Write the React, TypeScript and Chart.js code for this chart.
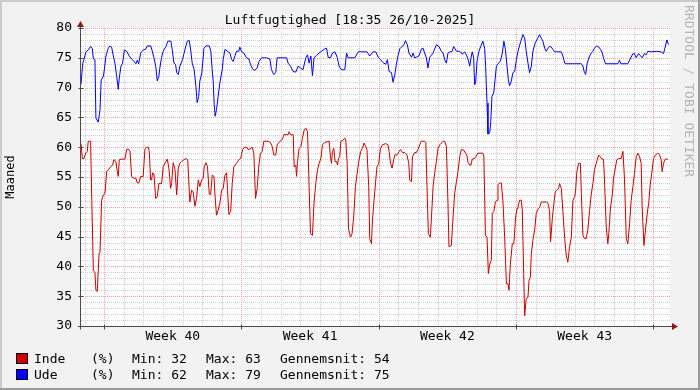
import React, { useEffect, useRef } from 'react';
import { Chart, registerables } from 'chart.js';

Chart.register(...registerables);

const TITLE = 'Luftfugtighed [18:35 26/10-2025]';
const Y_TITLE = 'Maaned';
const WATERMARK = 'RRDTOOL / TOBI OETIKER';

// x axis: days since start of the 30-day window
const SPAN_DAYS = 30.03;
const FIRST_MIDNIGHT = 0.18;
const WEEK_STARTS = [1.18, 8.18, 15.18, 22.18, 29.18];
const WEEK_LABELS = ['Week 40', 'Week 41', 'Week 42', 'Week 43'];

const Y_MIN = 30;
const Y_MAX = 80;
const Y_TICKS = [30, 35, 40, 45, 50, 55, 60, 65, 70, 75, 80];

const SERIES_NAMES = ['Inde', 'Ude'];
const SERIES_UNITS = ['(%)', '(%)'];
const SERIES_MIN = [32, 62];
const SERIES_MAX = [63, 79];
const SERIES_AVG = [54, 75];
const SERIES_COLORS = ['#cc0000', '#0000ff'];

// [day, humidity %]
const indeSamples: [number, number][] = [
  [0, 60.6], [0.07, 58.1], [0.15, 58.1], [0.24, 59], [0.32, 59.3], [0.37, 61], [0.49, 61], [0.55, 51.1], [0.63, 39.3], [0.71, 39],
  [0.76, 36], [0.83, 35.8], [0.92, 42.1], [0.97, 42.4], [1.05, 51.1], [1.14, 52], [1.22, 52.2], [1.31, 55.9], [1.39, 56.2], [1.51, 56.7],
  [1.61, 57], [1.68, 57.9], [1.78, 57.6], [1.85, 55.9], [1.9, 55.1], [1.95, 57.9], [2.07, 58], [2.24, 58], [2.33, 59.6], [2.41, 59.7],
  [2.5, 59.3], [2.58, 55.1], [2.66, 54.8], [2.8, 54.8], [2.87, 54], [2.95, 54], [3.04, 55.1], [3.17, 55.1], [3.26, 59.7], [3.35, 60],
  [3.43, 60], [3.48, 59.3], [3.55, 54.5], [3.6, 54.5], [3.65, 55.7], [3.72, 55.5], [3.81, 51.4], [3.89, 51.7], [3.97, 53.9], [4.11, 53.9],
  [4.19, 56.7], [4.33, 57.6], [4.4, 58], [4.48, 56.5], [4.57, 53.1], [4.62, 53.9], [4.7, 57.4], [4.79, 56.3], [4.88, 52], [4.96, 56.5],
  [5.04, 57.3], [5.13, 57.6], [5.21, 57.8], [5.35, 58.1], [5.44, 57.9], [5.55, 50.8], [5.64, 52.8], [5.72, 52.5], [5.81, 50.1], [5.89, 51.4],
  [5.98, 54.5], [6.06, 53.4], [6.15, 54.5], [6.23, 54.8], [6.28, 56.7], [6.37, 57.4], [6.45, 56.7], [6.54, 52.1], [6.61, 52.1], [6.69, 55.3],
  [6.78, 55.1], [6.83, 52], [6.91, 48.6], [6.99, 49.4], [7.08, 50.6], [7.17, 52.8], [7.25, 53.1], [7.34, 55.3], [7.42, 55.7], [7.47, 52.9],
  [7.54, 48.7], [7.63, 49.2], [7.71, 53.9], [7.79, 56.7], [7.93, 57.3], [8.05, 57.9], [8.14, 58.1], [8.24, 59.6], [8.35, 60], [8.44, 60],
  [8.52, 59.6], [8.61, 59.7], [8.73, 60], [8.81, 59], [8.9, 51.4], [8.98, 53.1], [9.07, 57], [9.15, 59], [9.24, 59.3], [9.32, 61],
  [9.54, 61], [9.66, 60.8], [9.75, 60.1], [9.83, 58.7], [9.93, 58.7], [10.0, 60.4], [10.14, 61], [10.27, 61.3], [10.34, 62.1], [10.56, 62.1],
  [10.61, 62.6], [10.68, 62.1], [10.82, 62.1], [10.87, 56.7], [10.95, 57], [10.99, 55.1], [11.04, 57.6], [11.12, 59.8], [11.21, 60.1], [11.29, 61.5],
  [11.38, 62.9], [11.46, 63.2], [11.55, 62.6], [11.63, 53.4], [11.7, 45.5], [11.8, 45.2], [11.88, 50.6], [11.97, 53.9], [12.06, 56.2], [12.14, 57.3],
  [12.23, 58.1], [12.31, 60.4], [12.43, 60.8], [12.65, 61], [12.72, 58.4], [12.77, 57.3], [12.82, 59.3], [12.89, 59.8], [12.95, 57.6], [13.03, 57.6],
  [13.08, 57], [13.13, 58.1], [13.19, 58.4], [13.25, 61], [13.36, 61.2], [13.45, 61.5], [13.5, 61.2], [13.57, 57.3], [13.64, 46.3], [13.74, 44.9],
  [13.82, 45.5], [13.91, 48.6], [13.99, 53.4], [14.08, 55.6], [14.16, 57.6], [14.26, 59.3], [14.35, 59.8], [14.43, 60.7], [14.52, 60.1], [14.58, 59.6],
  [14.67, 53.4], [14.72, 44.7], [14.81, 43.8], [14.86, 47.8], [14.94, 51.1], [15.03, 54.5], [15.09, 56.7], [15.18, 57.3], [15.27, 59.8], [15.37, 60.4],
  [15.54, 60.6], [15.65, 60.4], [15.71, 59.3], [15.78, 57.3], [15.86, 56.5], [15.94, 57.9], [16.0, 58.7], [16.11, 58.7], [16.22, 59.3], [16.29, 59.6],
  [16.39, 59.1], [16.51, 59.1], [16.62, 58.7], [16.71, 57.3], [16.76, 54.5], [16.85, 54.2], [16.9, 58.4], [17.01, 59.1], [17.1, 59.1], [17.18, 59.6],
  [17.27, 60.4], [17.35, 61], [17.52, 61], [17.58, 60.8], [17.64, 53.4], [17.71, 45.5], [17.81, 44.9], [17.87, 48.3], [17.95, 53.4], [18.03, 55.6],
  [18.12, 57.6], [18.2, 59.8], [18.29, 60.4], [18.46, 61], [18.54, 61], [18.63, 60.1], [18.71, 50.6], [18.76, 43.3], [18.88, 43.5], [18.97, 48.3],
  [19.05, 52.2], [19.14, 54.2], [19.22, 55.9], [19.31, 58.4], [19.39, 59.6], [19.51, 59.5], [19.61, 59], [19.67, 58.7], [19.73, 57.5], [19.82, 57],
  [19.88, 57], [19.95, 58], [20.07, 58.1], [20.24, 59], [20.49, 59], [20.54, 58.4], [20.62, 45.2], [20.7, 44.9], [20.77, 38.8], [20.84, 40.4],
  [20.92, 41], [20.97, 48.9], [21.05, 49.2], [21.13, 50.8], [21.21, 51.1], [21.26, 53.7], [21.34, 54], [21.43, 54], [21.51, 51.1], [21.6, 44.9],
  [21.69, 37.1], [21.77, 37.1], [21.82, 36], [21.89, 40.4], [21.99, 43.8], [22.07, 43.8], [22.16, 48.3], [22.23, 49.7], [22.28, 50], [22.36, 51.1],
  [22.45, 51.1], [22.5, 49.4], [22.57, 38.8], [22.62, 31.7], [22.7, 34.6], [22.79, 34.8], [22.84, 37.6], [22.91, 38.2], [22.96, 42.1], [23.04, 44.4],
  [23.13, 46.1], [23.21, 48.9], [23.3, 49.6], [23.38, 49.9], [23.47, 50.8], [23.75, 50.8], [23.8, 50.6], [23.89, 49.4], [23.94, 44.1], [24.03, 48],
  [24.11, 50.6], [24.18, 52.5], [24.26, 52.8], [24.35, 53.1], [24.4, 53.9], [24.49, 53.1], [24.57, 49.2], [24.66, 44.7], [24.74, 41.9], [24.82, 40.7],
  [24.91, 43.3], [25.0, 44.9], [25.08, 51.1], [25.17, 51.7], [25.22, 52.8], [25.28, 55.9], [25.37, 57.3], [25.46, 57.3], [25.51, 52.2], [25.59, 45.2],
  [25.67, 44.7], [25.76, 44.7], [25.84, 46.1], [25.93, 49.4], [26.01, 52], [26.1, 53.9], [26.18, 56.2], [26.27, 57.3], [26.39, 58.7], [26.47, 58.4],
  [26.56, 58], [26.64, 58], [26.69, 54.5], [26.78, 46.6], [26.86, 43.8], [26.91, 45.5], [27.0, 50], [27.09, 52], [27.15, 54.8], [27.24, 56.5],
  [27.32, 57.9], [27.42, 58.1], [27.54, 58.1], [27.63, 59.3], [27.71, 54.8], [27.8, 44.7], [27.88, 43.8], [27.97, 47.2], [28.05, 51.1], [28.14, 53.4],
  [28.22, 55.6], [28.31, 58.4], [28.39, 59], [28.48, 58.4], [28.56, 57.3], [28.61, 50], [28.7, 43.5], [28.78, 46.1], [28.87, 48.9], [28.95, 50.8],
  [29.02, 53.7], [29.1, 55.6], [29.19, 58.1], [29.29, 58.7], [29.41, 59], [29.5, 58.7], [29.58, 57.9], [29.63, 55.9], [29.7, 57.3], [29.79, 58],
  [29.92, 58],
];

const udeSamples: [number, number][] = [
  [0, 70.6], [0.09, 74.1], [0.15, 74.7], [0.25, 76], [0.37, 76.3], [0.49, 76.9], [0.58, 76.5], [0.63, 74.8], [0.71, 74.7], [0.76, 64.9],
  [0.88, 64.2], [0.97, 66.3], [1.03, 71.3], [1.14, 71.9], [1.19, 73], [1.27, 75.3], [1.39, 76.6], [1.48, 77], [1.56, 76.8], [1.65, 75.3],
  [1.73, 74.1], [1.82, 71.9], [1.9, 69.7], [1.95, 71.6], [2.04, 73.6], [2.12, 74.1], [2.21, 76.3], [2.33, 76.1], [2.46, 75.3], [2.58, 74.8],
  [2.7, 74.4], [2.8, 74], [2.87, 74.6], [2.94, 74], [3.04, 75.8], [3.17, 76.3], [3.31, 76.5], [3.38, 77], [3.55, 77], [3.62, 76.3],
  [3.72, 75], [3.81, 73.6], [3.89, 71.1], [3.97, 71.9], [4.02, 73.3], [4.11, 75.1], [4.19, 76.1], [4.33, 76.9], [4.43, 77.8], [4.58, 77.8],
  [4.65, 76.4], [4.74, 74.1], [4.82, 73.9], [4.88, 72.5], [4.96, 72.2], [5.04, 73.6], [5.18, 74.7], [5.3, 76.4], [5.42, 77.8], [5.52, 77.9],
  [5.6, 76.1], [5.67, 74.1], [5.77, 73], [5.86, 70.2], [5.92, 67.5], [6.0, 68.5], [6.06, 71.1], [6.16, 72.5], [6.27, 76.6], [6.37, 77],
  [6.54, 77], [6.62, 76.1], [6.69, 73], [6.74, 71.1], [6.79, 67.2], [6.84, 65.2], [6.91, 66.3], [6.99, 68.5], [7.08, 70.8], [7.2, 73],
  [7.25, 74.7], [7.34, 76.4], [7.47, 76.1], [7.59, 75.8], [7.68, 74.7], [7.76, 74.4], [7.85, 75.3], [7.93, 76.1], [8.05, 76.1], [8.1, 76.8],
  [8.19, 76], [8.3, 75.8], [8.44, 75], [8.56, 74.8], [8.64, 73.9], [8.75, 73.1], [8.86, 72.9], [8.98, 73.3], [9.08, 74.4], [9.21, 75],
  [9.37, 75], [9.46, 75], [9.63, 74.8], [9.71, 73], [9.83, 72.2], [9.93, 72.5], [10.0, 75], [10.48, 75], [10.56, 74.1], [10.68, 73.6],
  [10.82, 72.7], [10.95, 72.6], [11.07, 73.6], [11.19, 73.3], [11.32, 73], [11.46, 75], [11.55, 75.5], [11.63, 74.1], [11.72, 75.3], [11.8, 72],
  [11.88, 75], [12.01, 75.4], [12.14, 75.8], [12.26, 76.1], [12.43, 76.5], [12.52, 76.6], [12.6, 75.1], [12.72, 75], [12.82, 75.8], [12.95, 76],
  [13.06, 75.1], [13.16, 73.6], [13.25, 73.1], [13.33, 73], [13.45, 73], [13.54, 75.8], [13.62, 75], [13.96, 75], [14.13, 76], [14.58, 76],
  [14.72, 75.3], [14.89, 76], [15.03, 76], [15.15, 75.1], [15.27, 74.7], [15.4, 74.2], [15.54, 73.9], [15.62, 74.7], [15.71, 72.7], [15.83, 72.5],
  [15.91, 70.9], [16.0, 72.2], [16.08, 73.9], [16.16, 75.3], [16.25, 76.5], [16.37, 76.9], [16.47, 77.2], [16.54, 77.9], [16.64, 77.2], [16.72, 75.8],
  [16.85, 75.1], [16.93, 75.8], [17.01, 75], [17.1, 75.1], [17.23, 75.3], [17.36, 76.5], [17.44, 76.6], [17.52, 75.8], [17.61, 75], [17.69, 73.3],
  [17.78, 75.1], [17.95, 75.8], [18.12, 77.2], [18.25, 76.9], [18.37, 76.1], [18.46, 75.8], [18.54, 74.7], [18.63, 74.1], [18.71, 75.8], [18.8, 76],
  [18.91, 76], [19.0, 76.9], [19.14, 76.1], [19.31, 76.1], [19.44, 75.6], [19.56, 76], [19.65, 75.5], [19.73, 74.8], [19.82, 73.6], [19.9, 75.3],
  [19.95, 76], [20.02, 75], [20.07, 70.5], [20.12, 70.8], [20.19, 74.4], [20.29, 76.1], [20.38, 76.9], [20.49, 77.8], [20.58, 76.6], [20.63, 73.6],
  [20.7, 67.4], [20.75, 62.2], [20.84, 62.4], [20.89, 64.1], [20.95, 68.5], [21.04, 69.1], [21.11, 71.3], [21.18, 73.6], [21.28, 74.1], [21.38, 74.4],
  [21.48, 75.8], [21.56, 77.8], [21.64, 76.4], [21.72, 73.6], [21.79, 71.3], [21.85, 70.3], [21.94, 71.1], [22.02, 72.5], [22.11, 72.7], [22.2, 74.7],
  [22.28, 76.1], [22.4, 77.5], [22.53, 78.9], [22.62, 78.3], [22.7, 76.1], [22.79, 74.1], [22.87, 72.5], [22.96, 73.6], [23.04, 76.1], [23.16, 77.5],
  [23.27, 78.2], [23.38, 78.9], [23.47, 78.3], [23.55, 77.8], [23.64, 76.6], [23.72, 76.1], [23.81, 76.6], [23.89, 76.9], [23.98, 76.8], [24.06, 76.4],
  [24.15, 76], [24.49, 76], [24.57, 75.3], [24.66, 74.1], [24.74, 74], [25.51, 74], [25.59, 73.6], [25.67, 72.5], [25.73, 72.2], [25.81, 74.1],
  [25.93, 75.3], [26.02, 75.8], [26.1, 76.1], [26.18, 76.6], [26.3, 77], [26.4, 76.8], [26.49, 76.4], [26.58, 75.8], [26.64, 75], [26.74, 74],
  [27.37, 74], [27.46, 74.6], [27.52, 74], [27.88, 74], [28.0, 74.8], [28.14, 75.7], [28.22, 75.7], [28.31, 75], [28.43, 75.7], [28.51, 75.4],
  [28.61, 75], [28.73, 75.7], [28.82, 75.5], [28.9, 76.1], [29.07, 76], [29.33, 76.1], [29.58, 76], [29.7, 75.7], [29.77, 76.6], [29.87, 78],
  [29.95, 77.2],
];

const MONO = '"DejaVu Sans Mono", monospace';
const BG = '#f2f2f2';
const AXIS_COLOR = '#4a4a4a';
const ARROW_COLOR = '#8b1a1a';
const MINOR_GRID = '#cfcfcf';
const MAJOR_GRID = '#f0a3a3';

const rrdPlugin = {
  id: 'rrdLook',
  beforeDraw(chart: any) {
    const { ctx, width, height, chartArea: a } = chart;
    const xs = chart.scales.x;
    const ys = chart.scales.y;
    ctx.save();
    ctx.fillStyle = BG;
    ctx.fillRect(0, 0, width, height);
    ctx.fillStyle = '#cbcbcb';
    ctx.fillRect(0, 0, width, 2);
    ctx.fillRect(0, 0, 2, height);
    ctx.fillStyle = '#9b9b9b';
    ctx.fillRect(0, height - 2, width, 2);
    ctx.fillRect(width - 2, 0, 2, height);
    ctx.fillStyle = '#ffffff';
    ctx.fillRect(a.left, a.top, a.right - a.left, a.bottom - a.top);

    ctx.lineWidth = 1;
    ctx.setLineDash([1, 1]);
    const isWeek = (d: number) => WEEK_STARTS.some((w) => Math.abs(w - d) < 0.01);
    // minor grid
    ctx.strokeStyle = MINOR_GRID;
    ctx.beginPath();
    for (let k = 0; FIRST_MIDNIGHT + k <= SPAN_DAYS; k++) {
      const d = FIRST_MIDNIGHT + k;
      if (isWeek(d)) continue;
      const px = Math.round(xs.getPixelForValue(d)) + 0.5;
      ctx.moveTo(px, a.top);
      ctx.lineTo(px, a.bottom);
    }
    for (let v = Y_MIN + 1; v < Y_MAX; v++) {
      if (Y_TICKS.includes(v)) continue;
      const py = Math.round(ys.getPixelForValue(v)) + 0.5;
      ctx.moveTo(a.left, py);
      ctx.lineTo(a.right, py);
    }
    ctx.stroke();
    // major grid
    ctx.strokeStyle = MAJOR_GRID;
    ctx.beginPath();
    WEEK_STARTS.forEach((d) => {
      const px = Math.round(xs.getPixelForValue(d)) + 0.5;
      ctx.moveTo(px, a.top);
      ctx.lineTo(px, a.bottom + 3);
    });
    Y_TICKS.forEach((v) => {
      if (v === Y_MIN) return;
      const py = Math.round(ys.getPixelForValue(v)) + 0.5;
      ctx.moveTo(a.left - 2, py);
      ctx.lineTo(a.right, py);
    });
    ctx.stroke();
    ctx.restore();
  },
  afterDatasetsDraw(chart: any) {
    const { ctx, chartArea: a } = chart;
    const xs = chart.scales.x;
    const ys = chart.scales.y;
    ctx.save();
    ctx.lineWidth = 1;
    ctx.strokeStyle = AXIS_COLOR;
    ctx.beginPath();
    const ax = a.left - 0.5;
    const ay = a.bottom + 0.5;
    ctx.moveTo(ax, ay + 3);
    ctx.lineTo(ax, a.top - 3);
    ctx.moveTo(a.left - 3, ay);
    ctx.lineTo(a.right + 3, ay);
    Y_TICKS.forEach((v) => {
      const py = Math.round(ys.getPixelForValue(v)) + 0.5;
      ctx.moveTo(ax - 2, py);
      ctx.lineTo(ax + 3, py);
    });
    WEEK_STARTS.forEach((d) => {
      const px = Math.round(xs.getPixelForValue(d)) + 0.5;
      ctx.moveTo(px, ay - 2);
      ctx.lineTo(px, ay + 3);
    });
    ctx.stroke();
    // arrows
    ctx.fillStyle = ARROW_COLOR;
    ctx.beginPath();
    ctx.moveTo(ax, a.top - 7);
    ctx.lineTo(ax - 3.5, a.top - 1);
    ctx.lineTo(ax + 3.5, a.top - 1);
    ctx.closePath();
    ctx.fill();
    ctx.beginPath();
    ctx.moveTo(a.right + 8, ay);
    ctx.lineTo(a.right + 2, ay - 3.5);
    ctx.lineTo(a.right + 2, ay + 3.5);
    ctx.closePath();
    ctx.fill();
    ctx.restore();
  },
  afterDraw(chart: any) {
    const { ctx, width, chartArea: a } = chart;
    ctx.save();
    // title
    ctx.fillStyle = '#000';
    ctx.font = `13px ${MONO}`;
    ctx.textAlign = 'center';
    ctx.textBaseline = 'alphabetic';
    ctx.fillText(TITLE, width / 2, 24);

    // watermark
    ctx.save();
    ctx.translate(688, 5);
    ctx.rotate(Math.PI / 2);
    ctx.fillStyle = '#b4b4b4';
    ctx.textAlign = 'left';
    ctx.textBaseline = 'middle';
    ctx.font = `13px ${MONO}`;
    ctx.fillText(WATERMARK, 0, 0);
    ctx.restore();

    // vertical label, centred on the plot area
    ctx.save();
    ctx.translate(11, (a.top + a.bottom) / 2);
    ctx.rotate(-Math.PI / 2);
    ctx.fillStyle = '#000';
    ctx.textAlign = 'center';
    ctx.textBaseline = 'middle';
    ctx.font = `12px ${MONO}`;
    ctx.fillText(Y_TITLE, 0, 0);
    ctx.restore();

    // legend
    ctx.font = `13px ${MONO}`;
    ctx.textAlign = 'left';
    ctx.textBaseline = 'alphabetic';
    const cols = [34, 91, 132, 206, 280];
    SERIES_NAMES.forEach((name, i) => {
      const base = 363 + i * 16;
      ctx.fillStyle = SERIES_COLORS[i];
      ctx.fillRect(17, base - 9, 10, 9);
      ctx.strokeStyle = '#000';
      ctx.lineWidth = 1;
      ctx.strokeRect(16.5, base - 9.5, 11, 10);
      ctx.fillStyle = '#000';
      ctx.fillText(name, cols[0], base);
      ctx.fillText(SERIES_UNITS[i], cols[1], base);
      ctx.fillText(`Min: ${SERIES_MIN[i]}`, cols[2], base);
      ctx.fillText(`Max: ${SERIES_MAX[i]}`, cols[3], base);
      ctx.fillText(`Gennemsnit: ${SERIES_AVG[i]}`, cols[4], base);
    });
    ctx.restore();
  },
};

export default function App() {
  const ref = useRef<HTMLCanvasElement>(null);
  useEffect(() => {
    document.body.style.margin = '0';
    const weekMids = WEEK_LABELS.map((_, i) => (WEEK_STARTS[i] + WEEK_STARTS[i + 1]) / 2);
    const chart = new Chart(ref.current as HTMLCanvasElement, {
      type: 'line',
      data: {
        datasets: [
          {
            label: SERIES_NAMES[0],
            data: indeSamples.map(([x, y]) => ({ x, y })),
            borderColor: SERIES_COLORS[0],
            borderWidth: 1,
            pointRadius: 0,
            tension: 0,
            fill: false,
          },
          {
            label: SERIES_NAMES[1],
            data: udeSamples.map(([x, y]) => ({ x, y })),
            borderColor: SERIES_COLORS[1],
            borderWidth: 1,
            pointRadius: 0,
            tension: 0,
            fill: false,
          },
        ],
      },
      options: {
        responsive: false,
        animation: false,
        devicePixelRatio: 1,
        events: [],
        layout: { padding: { left: 0, top: 28, right: 30, bottom: 0 } },
        plugins: { legend: { display: false }, title: { display: false }, tooltip: { enabled: false } },
        scales: {
          x: {
            type: 'linear',
            min: 0,
            max: SPAN_DAYS,
            grid: { display: false, drawTicks: false },
            border: { display: false },
            afterBuildTicks: (s: any) => {
              s.ticks = weekMids.map((value) => ({ value }));
            },
            afterFit: (s: any) => {
              s.height = 64;
            },
            ticks: {
              autoSkip: false,
              maxRotation: 0,
              padding: 3,
              color: '#000',
              font: { family: MONO, size: 13 },
              callback: (_v: any, i: number) => WEEK_LABELS[i],
            },
          },
          y: {
            type: 'linear',
            min: Y_MIN,
            max: Y_MAX,
            grid: { display: false, drawTicks: false },
            border: { display: false },
            afterBuildTicks: (s: any) => {
              s.ticks = Y_TICKS.map((value) => ({ value }));
            },
            afterFit: (s: any) => {
              s.width = 81;
            },
            ticks: {
              padding: 9,
              color: '#000',
              font: { family: MONO, size: 13 },
            },
          },
        },
      },
      plugins: [rrdPlugin],
    } as any);
    return () => chart.destroy();
  }, []);
  return (
    <div style={{ width: 700, height: 390 }}>
      <canvas ref={ref} width={700} height={390} style={{ display: 'block' }} />
    </div>
  );
}
